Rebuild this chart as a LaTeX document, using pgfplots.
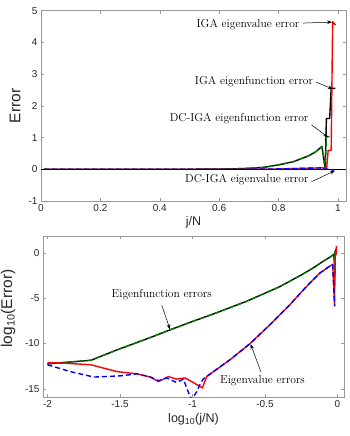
\documentclass[border=0pt]{standalone}
\usepackage{fontspec}
\setsansfont{Liberation Sans}
\usepackage{pgfplots}
\pgfplotsset{compat=1.18}
\usetikzlibrary{arrows.meta}
\definecolor{mgreen}{rgb}{0,0.5,0}
\definecolor{boxgray}{gray}{0.6}
\definecolor{labgray}{gray}{0.15}
\tikzset{
  dsh/.style={dash pattern=on 5pt off 3pt},
  ann/.style={font=\rmfamily\fontsize{11.5}{13}\selectfont, inner sep=0pt},
  arr/.style={-{Stealth[length=5pt,width=3.5pt]}, line width=0.5pt, black},
}
\pgfplotsset{
  mat/.style={
    scale only axis,
    clip mode=individual,
    axis line style={boxgray, line width=0.5pt},
    tick style={boxgray, line width=0.5pt},
    tick align=inside,
    major tick length=3pt,
    minor tick num=0,
    ticklabel style={font=\sffamily\fontsize{10}{12}\selectfont, text=labgray},
    /pgf/number format/assume math mode=true,
    x label style={font=\sffamily\fontsize{12.5}{14}\selectfont, text=labgray},
    y label style={font=\sffamily\fontsize{15.5}{17}\selectfont, text=labgray},
    every axis plot/.append style={line width=1.4pt, line join=round},
  },
}
\begin{document}
\begin{tikzpicture}
\useasboundingbox (0pt,0pt) rectangle (350pt,-436pt);
% ---------------- top axis ----------------
\begin{axis}[mat,
  at={(41pt,-10.7pt)}, anchor=north west,
  width=305pt, height=190.3pt,
  xmin=0, xmax=1.027, ymin=-1, ymax=5,
  xtick={0,0.2,0.4,0.6,0.8,1},
  ytick={-1,0,1,2,3,4,5},
  xlabel={j/N}, ylabel={Error},
  xlabel style={at={(axis description cs:0.5,-0.065)}, anchor=north},
  ylabel style={at={(axis description cs:-0.085,0.5)}, anchor=center},
]
% IGA eigenfunction error (black)
\addplot[black] coordinates {(0.01,0) (0.2,0.00002) (0.4,0.0002) (0.5,0.0013) (0.6,0.0065) (0.68,0.021) (0.75,0.06) (0.8,0.14) (0.85,0.24) (0.9,0.42) (0.925,0.55) (0.946,0.72) (0.957,0.01) (0.961,1.6) (0.972,1.6) (0.977,2.55) (0.991,2.55)};
% DC-IGA eigenfunction error (green dashed)
\addplot[mgreen, dsh] coordinates {(0.01,0) (0.2,0.00002) (0.4,0.0002) (0.5,0.0013) (0.6,0.0065) (0.68,0.021) (0.75,0.06) (0.8,0.14) (0.85,0.24) (0.9,0.42) (0.925,0.55) (0.946,0.72) (0.957,0.01) (0.961,1.03) (0.972,1.03)};
% IGA eigenvalue error (red)
\addplot[red] coordinates {(0.01,0) (0.6,0.0002) (0.7,0.0025) (0.8,0.011) (0.85,0.022) (0.9,0.034) (0.95,0.045) (0.955,0.0) (0.962,0.045) (0.967,0.6) (0.977,0.6) (0.982,4.65) (0.992,4.55)};
% DC-IGA eigenvalue error (blue dashed)
\addplot[blue, dsh] coordinates {(0.01,0) (0.6,0.0002) (0.7,0.0025) (0.8,0.011) (0.85,0.022) (0.9,0.034) (0.95,0.045) (0.955,0.0) (0.965,0.01) (0.975,0.0) (0.985,-0.04)};
% zero line
\addplot[black, line width=0.9pt] coordinates {(0,0) (1.027,0)};
\node[ann] at (axis cs:0.697,4.57) {IGA eigenvalue error};
\draw[arr] (axis cs:0.882,4.61) -- (axis cs:0.98,4.64);
\node[ann] at (axis cs:0.717,2.76) {IGA eigenfunction error};
\draw[arr] (axis cs:0.926,2.75) -- (axis cs:0.983,2.53);
\node[ann] at (axis cs:0.667,1.61) {DC-IGA eigenfunction error};
\draw[arr] (axis cs:0.911,1.40) -- (axis cs:0.967,1.01);
\node[ann] at (axis cs:0.693,-0.34) {DC-IGA eigenvalue error};
\draw[arr] (axis cs:0.911,-0.39) -- (axis cs:0.99,-0.045);
\end{axis}
% ---------------- bottom axis ----------------
\begin{axis}[mat,
  at={(43pt,-236pt)}, anchor=north west,
  width=301pt, height=161pt,
  xmin=-2.031, xmax=0.045, ymin=-15.9, ymax=1.85,
  xtick={-2,-1.5,-1,-0.5,0},
  ytick={-15,-10,-5,0},
  xlabel={log\textsubscript{10}(j/N)}, ylabel={log\textsubscript{10}(Error)},
  xlabel style={at={(axis description cs:0.5,-0.08)}, anchor=north},
  ylabel style={at={(axis description cs:-0.116,0.55)}, anchor=center},
]
\addplot[black] coordinates {(-2.000,-12.25) (-1.850,-12.05) (-1.700,-11.85) (-1.520,-10.70) (-1.300,-9.40) (-1.155,-8.50) (-1.017,-7.67) (-0.857,-6.75) (-0.627,-5.35) (-0.399,-3.74) (-0.250,-2.45) (-0.167,-1.67) (-0.100,-0.95) (-0.046,-0.42) (-0.024,-0.16) (-0.0186,-2.6) (-0.0168,0.20) (-0.0122,0.20) (-0.0096,0.41) (-0.0035,0.41)};
\addplot[mgreen, dsh] coordinates {(-2.000,-12.25) (-1.850,-12.05) (-1.700,-11.85) (-1.520,-10.70) (-1.300,-9.40) (-1.155,-8.50) (-1.017,-7.67) (-0.857,-6.75) (-0.627,-5.35) (-0.399,-3.74) (-0.250,-2.45) (-0.167,-1.67) (-0.100,-0.95) (-0.046,-0.42) (-0.024,-0.16) (-0.0186,-2.6) (-0.0168,0.013) (-0.0122,0.013)};
\addplot[red] coordinates {(-2.000,-12.10) (-1.850,-12.20) (-1.700,-12.35) (-1.520,-13.10) (-1.383,-13.35) (-1.290,-13.70) (-1.235,-14.20) (-1.166,-13.65) (-1.110,-13.93) (-1.050,-13.80) (-1.006,-14.20) (-0.948,-14.74) (-0.932,-14.90) (-0.902,-13.64) (-0.742,-11.80) (-0.605,-10.04) (-0.467,-7.95) (-0.330,-5.75) (-0.215,-3.74) (-0.124,-2.27) (-0.070,-1.66) (-0.046,-1.40) (-0.033,-1.30) (-0.020,-5.86) (-0.0168,-1.35) (-0.0146,-0.22) (-0.0100,-0.22) (-0.0079,0.667) (-0.0035,0.658)};
\addplot[blue, dsh] coordinates {(-2.000,-12.35) (-1.842,-13.10) (-1.680,-13.70) (-1.498,-13.57) (-1.383,-13.35) (-1.290,-13.70) (-1.235,-14.10) (-1.177,-13.80) (-1.110,-14.30) (-1.063,-13.93) (-1.030,-15.30) (-1.006,-16.20) (-0.970,-15.30) (-0.948,-14.50) (-0.925,-13.90) (-0.902,-13.64) (-0.742,-11.80) (-0.605,-10.04) (-0.467,-7.95) (-0.330,-5.75) (-0.215,-3.74) (-0.124,-2.27) (-0.070,-1.66) (-0.046,-1.40) (-0.033,-1.30) (-0.020,-5.86)};
\node[ann] at (axis cs:-1.212,-4.59) {Eigenfunction errors};
\draw[arr] (axis cs:-1.212,-5.77) -- (axis cs:-1.155,-8.45);
\node[ann] at (axis cs:-0.517,-14.11) {Eigenvalue errors};
\draw[arr] (axis cs:-0.528,-13.12) -- (axis cs:-0.599,-10.07);
\end{axis}
\end{tikzpicture}
\end{document}
